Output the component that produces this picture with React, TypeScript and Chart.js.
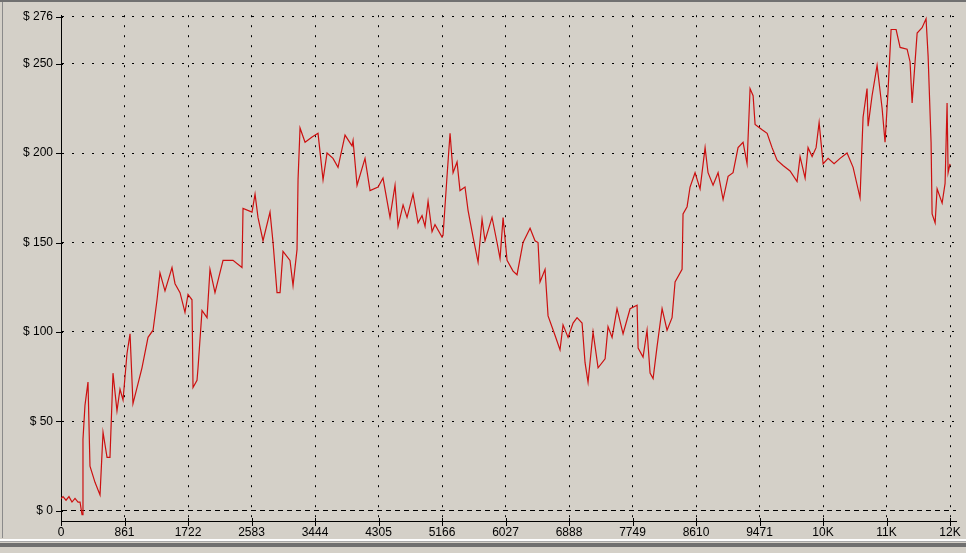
import React, { useEffect, useRef } from 'react';
import { Chart, registerables } from 'chart.js';

Chart.register(...registerables);

// Hands played (x) and cumulative winnings in $ (y)
const hands = [
  0, 27, 68, 108, 149, 190, 231, 258, 285, 298, 325, 366, 393, 461, 529, 570, 624, 664, 705, 759,
  800, 841, 895, 936, 976, 1098, 1180, 1248, 1302, 1342, 1410, 1505, 1546, 1614, 1681, 1722, 1776, 1790, 1844, 1858,
  1912, 1980, 2020, 2088, 2197, 2332, 2454, 2468, 2590, 2631, 2671, 2739, 2834, 2875, 2929, 2970, 3010, 3105, 3146, 3200,
  3214, 3241, 3309, 3404, 3485, 3553, 3607, 3688, 3756, 3851, 3946, 3960, 4014, 4122, 4190, 4299, 4366, 4461, 4529, 4570,
  4638, 4692, 4773, 4841, 4895, 4936, 4977, 5031, 5071, 5166, 5180, 5234, 5275, 5316, 5370, 5410, 5478, 5519, 5587, 5655,
  5709, 5749, 5844, 5912, 5953, 5994, 6048, 6129, 6183, 6265, 6360, 6427, 6468, 6495, 6563, 6604, 6699, 6766, 6807, 6875,
  6943, 6997, 7065, 7105, 7146, 7214, 7282, 7377, 7417, 7472, 7539, 7621, 7716, 7811, 7825, 7892, 7946, 7987, 8028, 8082,
  8150, 8217, 8285, 8326, 8421, 8434, 8489, 8529, 8597, 8665, 8733, 8773, 8841, 8909, 8977, 9045, 9112, 9180, 9248, 9302,
  9343, 9384, 9411, 9506, 9574, 9641, 9709, 9790, 9885, 9980, 10021, 10089, 10129, 10184, 10238, 10279, 10333, 10401, 10482, 10563,
  10658, 10740, 10834, 10875, 10929, 10943, 10997, 11065, 11133, 11173, 11214, 11255, 11323, 11377, 11472, 11512, 11540, 11608, 11675, 11729,
  11757, 11797, 11811, 11852, 11879, 11947, 11987, 12014, 12028, 12054,
];
const winnings = [
  7, 8, 6, 8, 5, 7, 5, 5, -2, 40, 59, 72, 25, 16, 9, 44, 30, 30, 77, 56,
  68, 62, 88, 99, 60, 80, 97, 101, 118, 133, 123, 136, 127, 122, 111, 121, 118, 69, 73, 80,
  112, 108, 135, 122, 140, 140, 136, 169, 167, 177, 164, 151, 167, 150, 122, 122, 145, 140, 126, 146,
  185, 214, 206, 209, 211, 185, 200, 197, 192, 210, 204, 207, 182, 197, 179, 181, 186, 164, 182, 159,
  171, 164, 177, 161, 165, 159, 173, 156, 160, 153, 154, 187, 211, 189, 195, 179, 181, 168, 153, 139,
  163, 151, 164, 150, 141, 164, 140, 134, 132, 150, 158, 151, 150, 128, 135, 109, 98, 90, 104, 97,
  105, 108, 105, 83, 72, 100, 80, 85, 103, 97, 113, 99, 113, 115, 91, 86, 101, 77, 74, 92,
  113, 101, 108, 128, 135, 166, 170, 181, 189, 180, 203, 189, 182, 189, 174, 187, 189, 203, 206, 194,
  236, 232, 216, 213, 211, 203, 196, 193, 190, 184, 198, 186, 203, 198, 203, 217, 194, 197, 194, 197,
  200, 192, 175, 220, 236, 215, 232, 249, 225, 206, 235, 269, 269, 259, 258, 251, 228, 267, 270, 275,
  254, 206, 166, 161, 180, 172, 183, 228, 189, 194,
];

const xTickValues = [0, 861, 1722, 2583, 3444, 4305, 5166, 6027, 6888, 7749, 8610, 9471, 10332, 11193, 12054];
const xTickLabels = ['0', '861', '1722', '2583', '3444', '4305', '5166', '6027', '6888', '7749', '8610', '9471', '10K', '11K', '12K'];
const yTickValues = [0, 50, 100, 150, 200, 250, 276];
const yTickLabels = ['$ 0', '$ 50', '$ 100', '$ 150', '$ 200', '$ 250', '$ 276'];

const tickMarks = {
  id: 'tickMarks',
  afterDraw(chart: any) {
    const { ctx, scales } = chart;
    const x = scales.x;
    const y = scales.y;
    ctx.save();
    ctx.strokeStyle = '#000';
    ctx.lineWidth = 1;
    ctx.beginPath();
    x.ticks.forEach((t: any) => {
      const px = Math.round(x.getPixelForValue(t.value)) + 0.5;
      ctx.moveTo(px, y.bottom - 3);
      ctx.lineTo(px, y.bottom + 5);
    });
    y.ticks.forEach((t: any) => {
      const py = Math.round(y.getPixelForValue(t.value)) + 0.5;
      ctx.moveTo(x.left - 5, py);
      ctx.lineTo(x.left + 2, py);
    });
    ctx.stroke();
    ctx.restore();
  },
};

export default function App() {
  const ref = useRef<HTMLCanvasElement>(null);
  useEffect(() => {
    const points = hands.map((h, i) => ({ x: h, y: winnings[i] }));
    const chart = new Chart(ref.current as HTMLCanvasElement, {
      type: 'line',
      data: {
        datasets: [
          {
            data: points,
            borderColor: '#cc1010',
            borderWidth: 1.2,
            pointRadius: 0,
            tension: 0,
            fill: false,
          },
        ],
      },
      options: {
        animation: false,
        responsive: false,
        devicePixelRatio: 1,
        layout: { padding: { left: 0, top: 15, right: 10, bottom: 0 } },
        plugins: { legend: { display: false }, tooltip: { enabled: false } },
        scales: {
          x: {
            type: 'linear',
            min: 0,
            max: 12135,
            afterFit: (s: any) => { s.height = 32; },
            afterBuildTicks: (s: any) => { s.ticks = xTickValues.map((v) => ({ value: v })); },
            ticks: {
              autoSkip: false,
              maxRotation: 0,
              padding: 4,
              color: '#000',
              font: { family: 'Liberation Sans', size: 12 },
              callback: (_v: any, i: number) => xTickLabels[i],
            },
            grid: { color: '#000', lineWidth: 1, drawTicks: false },
            border: { display: true, color: '#000', width: 1, dash: [2, 8] },
          },
          y: {
            type: 'linear',
            min: -5.6,
            max: 277,
            afterFit: (s: any) => { s.width = 61; },
            afterBuildTicks: (s: any) => { s.ticks = yTickValues.map((v) => ({ value: v })); },
            ticks: {
              autoSkip: false,
              padding: 8,
              color: '#000',
              font: { family: 'Liberation Sans', size: 12 },
              callback: (_v: any, i: number) => yTickLabels[i],
            },
            grid: { color: '#000', lineWidth: 1, drawTicks: false },
            border: {
              display: true,
              color: '#000',
              width: 1,
              dash: (ctx: any) => (ctx.tick && ctx.tick.value === 0 ? [5, 4] : [2, 8]),
            },
          },
        },
      },
      plugins: [tickMarks],
    } as any);
    return () => chart.destroy();
  }, []);

  return (
    <div style={{ position: 'fixed', left: 0, top: 0, width: 966, height: 553, background: '#D4D0C8', overflow: 'hidden' }}>
      <div style={{ position: 'absolute', left: 0, top: 0, width: 966, height: 2, background: '#707070' }} />
      <div style={{ position: 'absolute', left: 2, top: 2, width: 1, height: 536, background: '#8a8a8a' }} />
      <div style={{ position: 'absolute', left: 0, top: 539, width: 966, height: 2, background: '#ffffff' }} />
      <div style={{ position: 'absolute', left: 0, top: 541, width: 966, height: 1, background: '#a8a8a8' }} />
      <div style={{ position: 'absolute', left: 0, top: 543, width: 966, height: 4, background: '#707070' }} />
      <canvas ref={ref} width={966} height={553} style={{ position: 'absolute', left: 0, top: 0, width: 966, height: 553 }} />
    </div>
  );
}
